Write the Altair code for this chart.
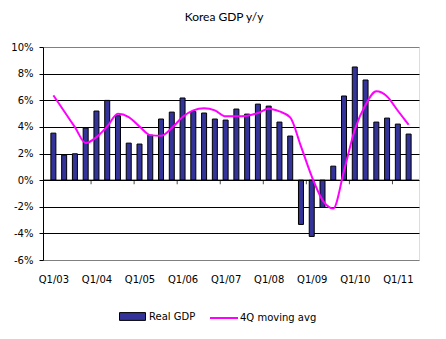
import altair as alt
import pandas as pd

quarters = [f"Q{q}/{y:02d}" for y in range(3, 12) for q in range(1, 5)][:34]

real_gdp = [3.53, 1.88, 1.98, 3.91, 5.19, 5.99, 4.84, 2.78,
            2.71, 3.38, 4.59, 5.11, 6.17, 5.16, 5.04, 4.59,
            4.51, 5.34, 4.96, 5.71, 5.56, 4.36, 3.31, -3.33,
            -4.23, -2.05, 1.05, 6.32, 8.50, 7.52, 4.36, 4.66,
            4.21, 3.46]

moving_avg = [6.37, 5.17, 3.98, 2.78, 3.23, 4.03, 4.99, 4.74,
              4.03, 3.38, 3.33, 3.91, 4.74, 5.24, 5.39, 5.24,
              4.79, 4.79, 4.84, 5.04, 5.36, 5.16, 4.71, 2.53,
              0.28, -1.50, -2.13, 0.70, 3.78, 5.66, 6.67, 6.29,
              5.21, 4.16]

y_ticks = [-6, -4, -2, 0, 2, 4, 6, 8, 10]

n = len(quarters)
df = pd.DataFrame({
    "idx": list(range(n)),
    "quarter": quarters,
    "gdp": real_gdp,
    "mavg": moving_avg,
})
df["pos"] = df["idx"] + 0.5
df["s1"] = "Real GDP"
df["s2"] = "4Q moving avg"

q1_pos = [i + 0.5 for i, q in enumerate(quarters) if q.startswith("Q1")]
year_bounds = [i for i, q in enumerate(quarters) if q.startswith("Q1") and i > 0]

label_arr = "[" + ",".join(f"'{q}'" for q in quarters) + "]"

FONT = "DejaVu Sans"

xscale = alt.Scale(domain=[0, n], nice=False, zero=False)
yscale = alt.Scale(domain=[-6, 10], nice=False)

xaxis = alt.Axis(values=q1_pos, labelExpr=f"{label_arr}[floor(datum.value)]",
                 domain=False, ticks=False, grid=False, title=None,
                 labelFont=FONT, labelFontSize=10, labelColor="black",
                 labelPadding=14, labelAngle=0)
yaxis = alt.Axis(values=y_ticks, labelExpr="datum.value + '%'", title=None,
                 grid=True,
                 gridColor={"condition": {"test": "datum.value == 10 || datum.value == -6",
                                          "value": "#808080"}, "value": "black"},
                 gridWidth=1, gridOpacity=1,
                 domainColor="black", tickColor="black", tickSize=4,
                 labelFont=FONT, labelFontSize=10, labelColor="black", labelPadding=6)

bars = alt.Chart(df).mark_bar(size=5, stroke="black", strokeWidth=1).encode(
    x=alt.X("pos:Q", scale=xscale, axis=xaxis),
    y=alt.Y("gdp:Q", scale=yscale, axis=yaxis),
    color=alt.Color("s1:N", scale=alt.Scale(domain=["Real GDP"], range=["#333399"]),
                    legend=alt.Legend(orient="none", legendX=76, legendY=256, title=None,
                                      symbolType="M -1 -0.3 L 1 -0.3 L 1 0.3 L -1 0.3 Z",
                                      symbolSize=676, symbolStrokeColor="black",
                                      symbolStrokeWidth=1, symbolOpacity=1,
                                      labelFont=FONT, labelFontSize=10, labelColor="black",
                                      labelOffset=3)),
)

zero = alt.Chart(pd.DataFrame({"pos": [0.0], "gdp": [0.0]})).mark_rule(
    color="black", strokeWidth=1
).encode(
    y=alt.Y("gdp:Q", scale=yscale, axis=yaxis)
)

ticks = alt.Chart(pd.DataFrame({"pos": year_bounds, "gdp": [0] * len(year_bounds)})).mark_tick(
    orient="vertical", size=4, thickness=1, color="black", yOffset=2
).encode(
    x=alt.X("pos:Q", scale=xscale, axis=xaxis),
    y=alt.Y("gdp:Q", scale=yscale, axis=yaxis),
)

line = alt.Chart(df).mark_line(strokeWidth=2, interpolate="monotone").encode(
    x=alt.X("pos:Q", scale=xscale, axis=xaxis),
    y=alt.Y("mavg:Q", scale=yscale, axis=yaxis),
    stroke=alt.Stroke("s2:N", scale=alt.Scale(domain=["4Q moving avg"], range=["#FF00FF"]),
                      legend=alt.Legend(orient="none", legendX=166, legendY=256, title=None,
                                        symbolType="stroke", symbolSize=784,
                                        symbolStrokeWidth=2,
                                        labelFont=FONT, labelFontSize=10, labelColor="black",
                                        labelOffset=1)),
)

chart = alt.layer(bars, zero, ticks, line).properties(
    width=376, height=213,
    title=alt.Title("Korea GDP y/y", font="Lato", fontSize=12, fontWeight="normal",
                    color="black", offset=18, dx=-7),
    autosize=alt.AutoSizeParams(type="none"),
    padding={"left": 43, "top": 47, "right": 27, "bottom": 79},
).resolve_scale(color="independent", stroke="independent").configure_view(
    stroke="#808080", strokeWidth=1
).configure(background="white")

chart.save("out.html", embed_options={"renderer": "svg", "actions": False})
